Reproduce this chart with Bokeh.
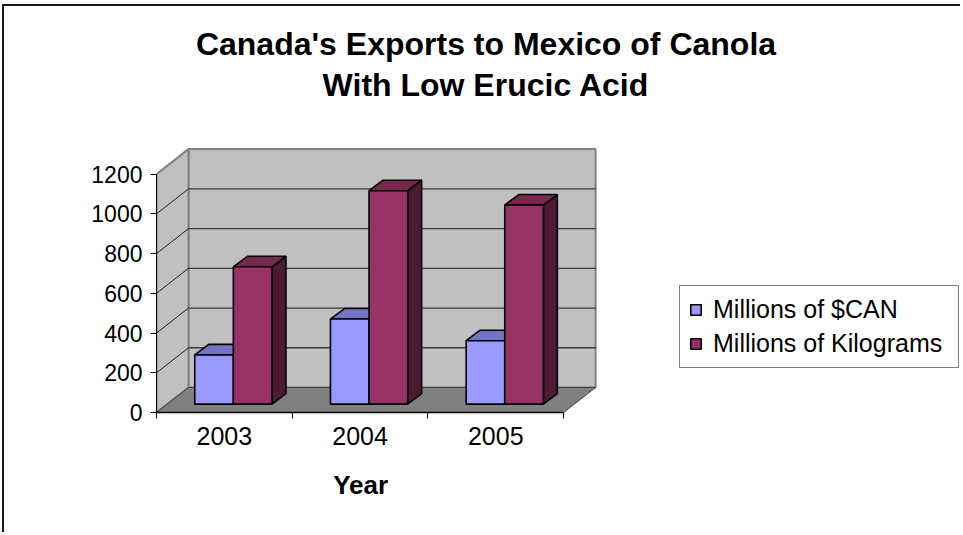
from bokeh.plotting import figure
from bokeh.models import Range1d, FixedTicker, Legend, LegendItem, Label, Title
from bokeh.embed import file_html
from bokeh.resources import INLINE

# ---------------- data ----------------
years = ["2003", "2004", "2005"]
can_millions = [248, 428, 319]
kg_millions = [691, 1074, 1002]
series_names = ["Millions of $CAN", "Millions of Kilograms"]
y_ticks = [0, 200, 400, 600, 800, 1000, 1200]
title_lines = ["Canada's Exports to Mexico of Canola", "With Low Erucic Acid"]
x_title = "Year"

# ---------------- layout (pixels) ----------------
W, H = 958, 528
ML, MB = 152, 122
FW, FH = W - ML, H - MB
FRAME_LEFT_PAGE, FRAME_BOTTOM_PAGE = 156, 412
PX_X = 135.7                 # pixels per category
PX_Y = 238.4 / 1200.0        # pixels per value unit
X0 = 0.5
XEND = X0 + FW / PX_X
YEND = FH / PX_Y

def xd(page_x):
    return X0 + (page_x - FRAME_LEFT_PAGE) / PX_X

def yd(page_y):
    return (FRAME_BOTTOM_PAGE - page_y) / PX_Y

WALL_DX, WALL_DY = 32 / PX_X, 25 / PX_Y
BAR_OFF, BAR_W = 27.5 / PX_X, 38.6 / PX_X
BAR_SX, BAR_SY = 10.75 / PX_X, 8.4 / PX_Y
BAR_DX, BAR_DY = 14 / PX_X, 10.5 / PX_Y

ncat = len(years)
ymax = y_ticks[-1]
xa, xb = X0, X0 + ncat

p = figure(width=W, height=H, x_range=Range1d(X0, XEND), y_range=Range1d(0, YEND),
           output_backend="svg", toolbar_location=None,
           min_border_left=ML, min_border_right=0, min_border_top=0, min_border_bottom=MB,
           background_fill_color="white", border_fill_color="white")
p.outline_line_color = None
p.xgrid.visible = False
p.ygrid.visible = False
p.styles = {"margin-left": "2px", "margin-top": "4px",
            "border-left": "2px solid #1a1a1a", "border-top": "2px solid #1a1a1a"}

# ---------------- walls and floor ----------------
p.patch([xa + WALL_DX, xb + WALL_DX, xb + WALL_DX, xa + WALL_DX],
        [WALL_DY, WALL_DY, ymax + WALL_DY, ymax + WALL_DY],
        fill_color="#C0C0C0", line_color="#808080", line_width=2)
p.patch([xa, xa + WALL_DX, xa + WALL_DX, xa],
        [0, WALL_DY, ymax + WALL_DY, ymax],
        fill_color="#C0C0C0", line_color="#808080", line_width=2)
p.patch([xa, xb, xb + WALL_DX, xa + WALL_DX],
        [0, 0, WALL_DY, WALL_DY],
        fill_color="#808080", line_color="#404040", line_width=1)

gv = y_ticks[1:-1]
p.segment(x0=[xa + WALL_DX] * len(gv), y0=[v + WALL_DY for v in gv],
          x1=[xb + WALL_DX] * len(gv), y1=[v + WALL_DY for v in gv],
          line_color="#3a3a3a", line_width=1.3)
p.segment(x0=[xa] * len(gv), y0=gv,
          x1=[xa + WALL_DX] * len(gv), y1=[v + WALL_DY for v in gv],
          line_color="#202020", line_width=1)

# ---------------- 3D bars ----------------
def bars(values, s, front, top, side):
    lefts = [i + X0 + BAR_OFF + s * BAR_W + BAR_SX for i in range(ncat)]
    rights = [l + BAR_W for l in lefts]
    tops = [BAR_SY + v for v in values]
    side_xs = [[r, r + BAR_DX, r + BAR_DX, r] for r in rights]
    side_ys = [[BAR_SY, BAR_SY + BAR_DY, t + BAR_DY, t] for t in tops]
    top_xs = [[l, r, r + BAR_DX, l + BAR_DX] for l, r in zip(lefts, rights)]
    top_ys = [[t, t, t + BAR_DY, t + BAR_DY] for t in tops]
    p.patches(side_xs, side_ys, fill_color=side, line_color="black", line_width=1.6)
    p.patches(top_xs, top_ys, fill_color=top, line_color="black", line_width=1.6)
    return p.quad(left=lefts, right=rights, bottom=[BAR_SY] * ncat, top=tops,
                  fill_color=front, line_color="black", line_width=1.6)

r_can = bars(can_millions, 0, "#9999FF", "#7373C6", "#4C4C80")
r_kg = bars(kg_millions, 1, "#993366", "#76284F", "#4C1A33")

# ---------------- axes ----------------
ya = p.yaxis[0]
ya.ticker = FixedTicker(ticks=y_ticks)
ya.bounds = (0, ymax)
ya.major_tick_out = 6
ya.major_tick_in = 0
ya.minor_tick_out = 0
ya.minor_tick_in = 0
ya.major_label_standoff = 8
ya.axis_line_color = "black"
ya.major_tick_line_color = "black"
ya.major_label_text_font = "Liberation Sans"
ya.major_label_text_font_size = "23px"
ya.major_label_text_color = "black"

xa_ = p.xaxis[0]
xa_.ticker = FixedTicker(ticks=[i + 1 for i in range(ncat)],
                         minor_ticks=[i + X0 for i in range(ncat + 1)])
xa_.major_label_overrides = {i + 1: years[i] for i in range(ncat)}
xa_.bounds = (xa, xb)
xa_.major_tick_out = 0
xa_.major_tick_in = 0
xa_.minor_tick_out = 6
xa_.minor_tick_in = 0
xa_.minor_tick_line_color = "black"
xa_.axis_line_color = "black"
xa_.axis_line_width = 1.5
xa_.major_label_standoff = 8
xa_.major_label_text_font = "Liberation Sans"
xa_.major_label_text_font_size = "25px"
xa_.major_label_text_color = "black"

# axis title under the category axis
p.add_layout(Title(text=x_title, align="left", offset=176.7, standoff=40,
                   text_font="Liberation Sans", text_font_style="bold",
                   text_font_size="26px", text_color="black"), "below")

# ---------------- title ----------------
for line, base in zip(title_lines, [43.0, 84.7]):
    p.add_layout(Label(x=xd(485.5), y=yd(base), text=line, text_align="center",
                       text_baseline="alphabetic", text_font="Liberation Sans",
                       text_font_style="bold", text_font_size="32px", text_color="black"))

# ---------------- legend ----------------
legend = Legend(items=[LegendItem(label=series_names[0], renderers=[r_can]),
                       LegendItem(label=series_names[1], renderers=[r_kg])],
                location=(523, 44), orientation="vertical",
                glyph_width=13, glyph_height=13, label_standoff=11,
                label_width=236, label_height=26, spacing=5, padding=9, margin=0,
                border_line_color="black", border_line_width=1,
                background_fill_color="white", background_fill_alpha=1,
                label_text_font="Liberation Sans", label_text_font_size="25px",
                label_text_color="black")
p.add_layout(legend)

open("out.html", "w").write(file_html(p, INLINE))
